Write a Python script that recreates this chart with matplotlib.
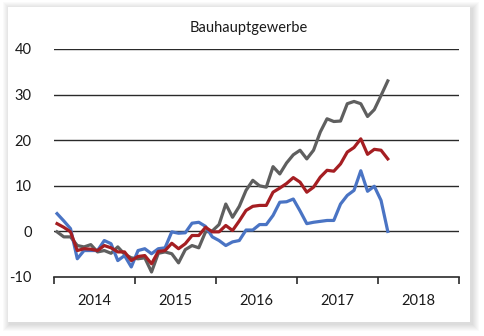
import matplotlib

matplotlib.use("Agg")

import matplotlib.pyplot as plt
from matplotlib.patches import Rectangle
import numpy as np

plt.rcParams["font.family"] = ["Lato", "DejaVu Sans"]

# Monthly values, Jan 2014 .. Feb 2018
gray_series = [
    -0.1, -1.2, -1.2, -3.1, -3.4, -2.9, -4.5, -4.2, -4.8, -3.4, -5.0, -5.8,
    -6.0, -5.8, -8.9, -4.8, -4.5, -4.9, -6.9, -4.0, -3.1, -3.6, -0.1, 0.1,
    1.5, 6.0, 3.1, 5.5, 9.0, 11.2, 10.0, 9.7, 14.2, 12.6, 15.0, 16.8,
    17.8, 15.9, 17.8, 21.8, 24.7, 24.1, 24.2, 28.0, 28.5, 28.0, 25.2, 26.7,
    29.8, 33.0,
]
red_series = [
    1.7, 0.9, -0.1, -4.2, -3.8, -3.9, -4.2, -3.1, -3.6, -4.5, -4.5, -6.4,
    -5.5, -5.3, -7.1, -4.4, -4.2, -2.6, -3.8, -2.7, -0.9, -0.9, 0.9, -0.1,
    -0.1, 1.3, 0.2, 2.3, 4.6, 5.5, 5.7, 5.7, 8.6, 9.5, 10.5, 11.8,
    10.8, 8.6, 9.7, 11.9, 13.4, 13.2, 14.8, 17.4, 18.4, 20.3, 16.9, 18.0,
    17.8, 15.9,
]
blue_series = [
    3.9, 2.3, 0.6, -6.0, -4.2, -4.2, -4.2, -2.0, -2.7, -6.4, -5.3, -7.8,
    -4.2, -3.8, -4.9, -3.8, -3.6, -0.1, -0.4, -0.3, 1.8, 2.0, 1.1, -1.2,
    -2.0, -3.1, -2.3, -2.0, 0.3, 0.3, 1.5, 1.5, 3.5, 6.4, 6.5, 7.1,
    4.5, 1.7, 2.0, 2.2, 2.4, 2.4, 6.0, 7.9, 9.0, 13.3, 8.8, 9.9,
    6.8, 0.0,
]
years = ["2014", "2015", "2016", "2017", "2018"]
y_ticks = [-10, 0, 10, 20, 30, 40]

fig = plt.figure(figsize=(4.85, 3.36), dpi=100)
fig.patch.set_facecolor("white")

# card with a soft drop shadow (pixel units converted to figure fractions)
W, H = 485.0, 336.0
cx0, cy0, cx1, cy1 = 8, 7, 470, 322
for g in range(7, 0, -1):
    dx, dy = 2, 2
    fig.patches.append(Rectangle(
        ((cx0 - g + dx) / W, (H - cy1 - g - dy) / H),
        (cx1 - cx0 + 2 * g) / W, (cy1 - cy0 + 2 * g) / H,
        transform=fig.transFigure, facecolor="black", alpha=0.018,
        edgecolor="none", zorder=0))
fig.patches.append(Rectangle(
    (cx0 / W, (H - cy1) / H), (cx1 - cx0) / W, (cy1 - cy0) / H,
    transform=fig.transFigure, facecolor="white", edgecolor="none", zorder=1))

ax = fig.add_axes([54 / W, 59 / H, 405 / W, 228 / H])
ax.set_facecolor("none")
ax.set_zorder(2)

x = np.arange(len(gray_series)) + 0.45
ax.plot(x, gray_series, color="#5f5f5f", lw=2.3, zorder=3)
ax.plot(x, red_series, color="#a51e22", lw=2.3, zorder=4)
ax.plot(x, blue_series, color="#4a74c4", lw=2.3, zorder=3)

for v in y_ticks[1:]:
    ax.axhline(v, color="#2a2a2a", lw=1.0, zorder=2)

ax.set_xlim(0, 60)
ax.set_ylim(-10, 40)
ax.set_yticks(y_ticks)
ax.set_yticklabels([str(v) for v in y_ticks])
ax.tick_params(axis="y", length=0, pad=16, labelsize=10.5, labelcolor="#1a1a1a")

ax.set_xticks(np.arange(0, 61, 12))
ax.set_xticklabels([])
ax.set_xticks(np.arange(6, 60, 12), minor=True)
ax.set_xticklabels(years, minor=True)
ax.tick_params(axis="x", which="major", direction="out", length=5, width=1.2, color="#2a2a2a")
ax.tick_params(axis="x", which="minor", length=0, pad=12, labelsize=10.5, labelcolor="#1a1a1a")

for side in ["left", "right", "top"]:
    ax.spines[side].set_visible(False)
ax.spines["bottom"].set_color("#2a2a2a")
ax.spines["bottom"].set_linewidth(1.2)

fig.text(249 / W, 1 - 28 / H, "Bauhauptgewerbe", ha="center", va="center",
         fontsize=10.5, color="#1a1a1a", zorder=5)

fig.savefig("out.png", dpi=100)
